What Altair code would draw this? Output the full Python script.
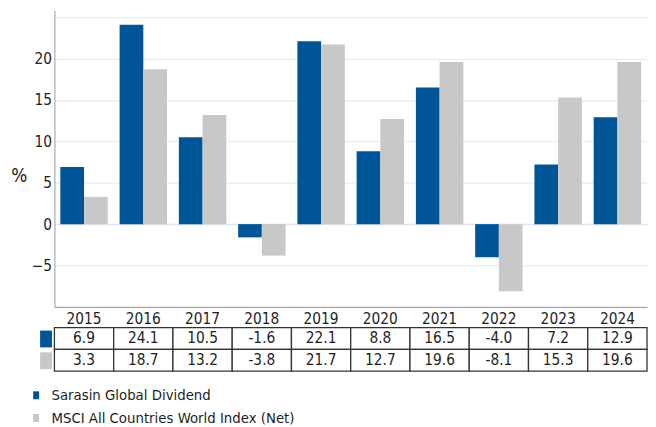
import altair as alt
import pandas as pd

years = ["2015", "2016", "2017", "2018", "2019", "2020", "2021", "2022", "2023", "2024"]
fund = [6.9, 24.1, 10.5, -1.6, 22.1, 8.8, 16.5, -4.0, 7.2, 12.9]
index = [3.3, 18.7, 13.2, -3.8, 21.7, 12.7, 19.6, -8.1, 15.3, 19.6]
series = ["Sarasin Global Dividend", "MSCI All Countries World Index (Net)"]
colors = ["#005596", "#C8C8C8"]
y_ticks = [-10, -5, 0, 5, 10, 15, 20, 25]

rows = []
for name, vals in zip(series, [fund, index]):
    for yr, v in zip(years, vals):
        rows.append({"year": yr, "series": name, "value": v, "label": f"{v:.1f}"})
df = pd.DataFrame(rows)

FONT = "DejaVu Sans Condensed, DejaVu Sans, sans-serif"
TXT = "#1e1e1e"
FS = 15.5

main = alt.Chart(df).mark_bar().encode(
    x=alt.X("year:N", sort=years, title=None,
            scale=alt.Scale(paddingInner=0.2, paddingOuter=0.1),
            axis=alt.Axis(labelAngle=0, ticks=False, tickSize=0, labelPadding=5,
                          labelFontSize=FS, labelColor=TXT, domainColor="#999999",
                          grid=False)),
    xOffset=alt.XOffset("series:N", sort=series,
                        scale=alt.Scale(paddingInner=0, paddingOuter=0)),
    y=alt.Y("value:Q", title="%",
            scale=alt.Scale(domain=[-10, 25.8], nice=False, zero=False),
            axis=alt.Axis(values=y_ticks, ticks=False, tickSize=0, labelPadding=3,
                          labelExpr="datum.value < -7 || datum.value > 22 ? '' : datum.label",
                          labelFontSize=FS, labelColor=TXT, domainColor="#999999",
                          gridColor={"condition": {"test": "datum.value === 0", "value": "#dfe4ee"},
                                     "value": "#eeeeee"},
                          gridWidth=1.5,
                          titleAngle=0, titleFontSize=19, titleFontWeight="normal",
                          titleColor=TXT, titleAlign="center", titleBaseline="middle",
                          titleX=-36, titleY=167)),
    color=alt.Color("series:N", sort=series, title=None,
                    scale=alt.Scale(domain=series, range=colors),
                    legend=alt.Legend(orient="none", legendX=-26, legendY=382,
                                      direction="vertical",
                                      symbolType="M-0.75,-1H0.75V1H-0.75Z",
                                      symbolSize=64, symbolStrokeWidth=0,
                                      labelFontSize=15, labelColor=TXT,
                                      labelOffset=8, rowPadding=7, labelLimit=400)),
).properties(width=600, height=300)

base = alt.Chart(df).encode(
    x=alt.X("year:N", sort=years, title=None,
            scale=alt.Scale(paddingInner=0, paddingOuter=0), axis=None),
    y=alt.Y("series:N", sort=series, title=None,
            scale=alt.Scale(domain=series, paddingInner=0, paddingOuter=0),
            axis=alt.Axis(labels=False, domain=False, grid=False, offset=3,
                          tickSize=12, tickWidth=17,
                          tickColor={"condition": {"test": f"datum.value === '{series[0]}'",
                                                   "value": colors[0]},
                                     "value": colors[1]})),
)
cells = base.mark_rect(fill="white", stroke="#333333", strokeWidth=1.3)
texts = base.mark_text(fontSize=FS, color=TXT).encode(text="label:N")
table = (cells + texts).properties(width=600, height=44)

chart = alt.vconcat(main, table, spacing=21, bounds="flush").properties(
    padding={"left": 2, "top": 0, "right": 0, "bottom": 0}
).configure(font=FONT).configure_view(stroke=None)

chart.save("out.html", embed_options={"renderer": "svg", "actions": False})
